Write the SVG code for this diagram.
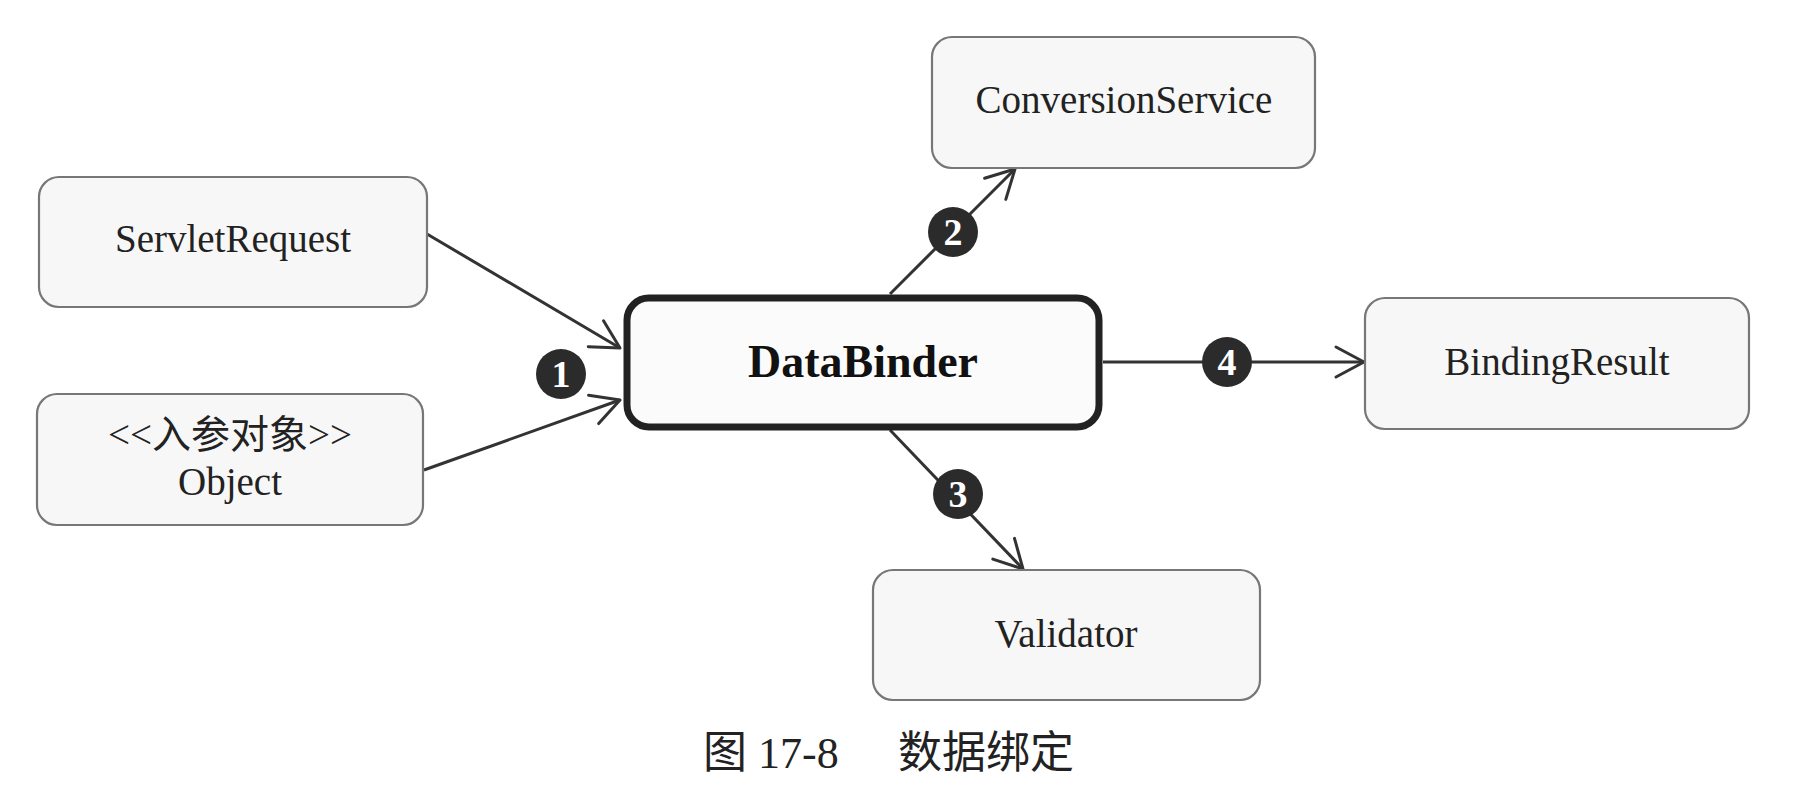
<svg xmlns="http://www.w3.org/2000/svg" width="1794" height="798" viewBox="0 0 1794 798">
  <style>
    .box { fill: #f7f7f7; stroke: #777; stroke-width: 2.2; }
    .main { fill: #fbfbfb; stroke: #222; stroke-width: 7; }
    .lbl { font-family: "Liberation Serif", "Noto Sans CJK SC", serif; font-size: 39px; fill: #222; text-anchor: middle; }
    .cjk { font-family: "Noto Sans CJK SC", sans-serif; }
    .serif { font-family: "Liberation Serif", serif; }
    .bold { font-weight: bold; font-size: 46px; fill: #111; }
    .conn { stroke: #333; stroke-width: 3; fill: none; marker-end: url(#arr); }
    .badge { fill: #2b2b2b; }
    .num { font-family: "Liberation Serif", serif; font-weight: bold; font-size: 38px; fill: #fff; text-anchor: middle; }
    .cap { font-size: 44px; fill: #222; }
  </style>
  <defs>
    <marker id="arr" markerUnits="userSpaceOnUse" markerWidth="40" markerHeight="40" viewBox="-32 -20 36 40" refX="0" refY="0" orient="auto">
      <path d="M-28,-15 L0,0 L-28,15" fill="none" stroke="#333" stroke-width="3" stroke-linejoin="round" stroke-linecap="round"/>
    </marker>
  </defs>
  <rect width="1794" height="798" fill="#fff"/>

  <g id="connectors">
    <line class="conn" x1="427" y1="234" x2="620" y2="348"/>
    <line class="conn" x1="424" y1="470" x2="620" y2="400"/>
    <line class="conn" x1="890" y1="294" x2="1015" y2="169"/>
    <line class="conn" x1="890" y1="430" x2="1023" y2="569"/>
    <line class="conn" x1="1103" y1="362" x2="1364" y2="362"/>
    <g id="badge1"><circle class="badge" cx="561" cy="374" r="25"/><text class="num" x="561" y="387">1</text></g>
    <g id="badge2"><circle class="badge" cx="953" cy="232" r="25"/><text class="num" x="953" y="245">2</text></g>
    <g id="badge3"><circle class="badge" cx="958" cy="494" r="25"/><text class="num" x="958" y="507">3</text></g>
    <g id="badge4"><circle class="badge" cx="1227" cy="362" r="25"/><text class="num" x="1227" y="375">4</text></g>
  </g>

  <g id="servletRequest">
    <rect class="box" x="39" y="177" width="388" height="130" rx="20"/>
    <text class="lbl" x="233" y="252">ServletRequest</text>
  </g>
  <g id="object">
    <rect class="box" x="37" y="394" width="386" height="131" rx="20"/>
    <text class="lbl" x="230" y="448">&lt;&lt;<tspan class="cjk">入参对象</tspan>&gt;&gt;</text>
    <text class="lbl" x="230" y="495">Object</text>
  </g>
  <g id="dataBinder">
    <rect class="main" x="627" y="298" width="472" height="129" rx="22"/>
    <text class="lbl bold" x="863" y="377">DataBinder</text>
  </g>
  <g id="conversionService">
    <rect class="box" x="932" y="37" width="383" height="131" rx="20"/>
    <text class="lbl" x="1124" y="113">ConversionService</text>
  </g>
  <g id="bindingResult">
    <rect class="box" x="1365" y="298" width="384" height="131" rx="20"/>
    <text class="lbl" x="1557" y="375">BindingResult</text>
  </g>
  <g id="validator">
    <rect class="box" x="873" y="570" width="387" height="130" rx="20"/>
    <text class="lbl" x="1066" y="647">Validator</text>
  </g>

  <g id="caption">
    <text class="cap cjk" x="703" y="768">图</text>
    <text class="cap serif" x="758" y="768">17-8</text>
    <text class="cap cjk" x="898" y="768" font-size="46">数据绑定</text>
  </g>
</svg>
